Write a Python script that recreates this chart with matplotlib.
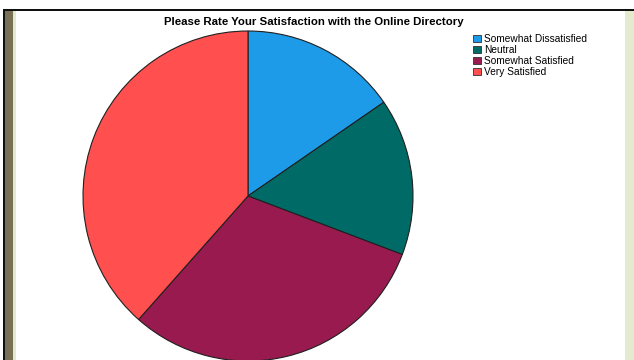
import matplotlib.pyplot as plt
from matplotlib.patches import Rectangle, Patch

# Survey responses
labels = ['Somewhat Dissatisfied', 'Neutral', 'Somewhat Satisfied', 'Very Satisfied']
counts = [2, 2, 4, 5]
colors = ['#1E9BE8', '#006B66', '#981A4E', '#FF4F4F']

W, H = 634, 360
fig = plt.figure(figsize=(W / 100, H / 100), dpi=100)
fig.patch.set_facecolor('white')
plt.rcParams['font.family'] = ['Liberation Sans', 'DejaVu Sans']


def px_rect(x0, y0, x1, y1, color):
    # rectangle given in pixel coords, y measured from the top
    fig.patches.append(Rectangle((x0 / W, 1 - y1 / H), (x1 - x0) / W, (y1 - y0) / H,
                                 transform=fig.transFigure, facecolor=color,
                                 edgecolor='none', zorder=0))


# window frame around the chart
px_rect(3, 9, 634, 11, '#101010')
px_rect(3, 9, 5, 360, '#101010')
px_rect(5, 11, 13, 360, '#7A7055')
px_rect(13, 11, 16, 360, '#E4EAD0')
px_rect(625, 11, 634, 360, '#E3EACD')

# pie centred at (248, 196) px with radius 165 px
cx, cy, r = 248, 196, 165
ax = fig.add_axes([(cx - r) / W, 1 - (cy + r) / H, 2 * r / W, 2 * r / H])
ax.pie(counts, colors=colors, startangle=90, counterclock=False,
       wedgeprops=dict(edgecolor='#202020', linewidth=0.8))
ax.set_xlim(-1, 1)
ax.set_ylim(-1, 1)
ax.set_aspect('auto')
ax.axis('off')

fig.text(314 / W, 1 - 22 / H, 'Please Rate Your Satisfaction with the Online Directory',
         ha='center', va='center', fontsize=8.2, fontweight='bold')

handles = [Patch(facecolor=c, edgecolor='#303030', linewidth=0.6) for c in colors]
fig.legend(handles, labels, loc='upper left', bbox_to_anchor=(473 / W, 1 - 34 / H),
           frameon=False, fontsize=7.3, handlelength=0.8, handleheight=0.8,
           handletextpad=0.25, labelspacing=0.1, borderpad=0, borderaxespad=0)

fig.savefig('out.png', dpi=100)
